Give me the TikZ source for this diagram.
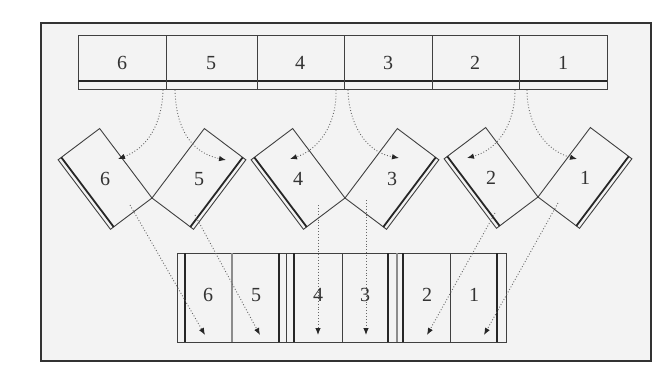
\documentclass[tikz,border=0pt]{standalone}
\usepackage{fontspec}
\setmainfont{Liberation Serif}
\usetikzlibrary{arrows.meta}
\definecolor{bg}{RGB}{243,243,243}
\tikzset{
  frame/.style={draw=black!80, line width=1.8pt},
  box/.style={draw=black!75, line width=0.9pt},
  spine/.style={draw=black!85, line width=1.8pt},
  greyline/.style={draw=black!45, line width=1.6pt},
  flow/.style={draw=black!60, dotted, line width=0.9pt,
    -{Latex[length=7pt,width=5.5pt,color=black!85]}},
  lbl/.style={font=\fontsize{20}{20}\selectfont, text=black!80, inner sep=0pt}
}
\begin{document}
\begin{tikzpicture}[x=1pt,y=-1pt]
\useasboundingbox (0,0) rectangle (654,378);
\fill[white] (0,0) rectangle (654,378);
\filldraw[frame, fill=bg] (41,23) rectangle (651,361);

% ---------- top strip ----------
\draw[box] (78,35) rectangle (607,89);
\draw[spine] (78,81) -- (607,81);
\foreach \x in {166,257,344,432,519} \draw[box] (\x,35) -- (\x,89);
\node[lbl] (t6) at (122,63) {6};
\node[lbl] (t5) at (211,63) {5};
\node[lbl] (t4) at (300,63) {4};
\node[lbl] (t3) at (388,63) {3};
\node[lbl] (t2) at (475,63) {2};
\node[lbl] (t1) at (563,63) {1};

% ---------- folded pages ----------
% 6
\draw[box] (99.64,128.52) -- (152,198) -- (110.47,229.29) -- (58.11,159.81) -- cycle;
\draw[spine] (61.30,157.40) -- (113.66,226.88);
% 5
\draw[box] (152,198) -- (204.36,128.52) -- (245.89,159.81) -- (193.53,229.29) -- cycle;
\draw[spine] (190.34,226.88) -- (242.70,157.40);
% 4
\draw[box] (292.64,128.52) -- (345,198) -- (303.47,229.29) -- (251.11,159.81) -- cycle;
\draw[spine] (254.30,157.40) -- (306.66,226.88);
% 3
\draw[box] (345,198) -- (397.36,128.52) -- (438.89,159.81) -- (386.53,229.29) -- cycle;
\draw[spine] (383.34,226.88) -- (435.70,157.40);
% 2
\draw[box] (485.64,127.52) -- (538,197) -- (496.47,228.29) -- (444.11,158.81) -- cycle;
\draw[spine] (447.30,156.40) -- (499.66,225.88);
% 1
\draw[box] (538,197) -- (590.36,127.52) -- (631.89,158.81) -- (579.53,228.29) -- cycle;
\draw[spine] (576.34,225.88) -- (628.70,156.40);

\node[lbl] (d6) at (105,179) {6};
\node[lbl] (d5) at (199,179) {5};
\node[lbl] (d4) at (298,179) {4};
\node[lbl] (d3) at (392,179) {3};
\node[lbl] (d2) at (491,178) {2};
\node[lbl] (d1) at (585,178) {1};

% ---------- bottom strip ----------
\draw[box] (177,253) rectangle (506,342);
\foreach \x in {185,279,294,388,403,497} \draw[spine] (\x,253) -- (\x,342);
\foreach \x in {286,342,450} \draw[box] (\x,253) -- (\x,342);
\foreach \x in {232,397} \draw[greyline] (\x,253) -- (\x,342);
\node[lbl] (b6) at (208,295) {6};
\node[lbl] (b5) at (256,295) {5};
\node[lbl] (b4) at (318,295) {4};
\node[lbl] (b3) at (365,295) {3};
\node[lbl] (b2) at (427,295) {2};
\node[lbl] (b1) at (474,295) {1};

% ---------- arrow end points ----------
\coordinate (s6) at (163,90);  \coordinate (e6) at (118,159);
\coordinate (s5) at (175,90);  \coordinate (e5) at (226,160);
\coordinate (s4) at (336,90);  \coordinate (e4) at (290,159);
\coordinate (s3) at (348,90);  \coordinate (e3) at (399,158);
\coordinate (s2) at (515,90);  \coordinate (e2) at (467,158);
\coordinate (s1) at (527,90);  \coordinate (e1) at (577,159);

\draw[flow] (s6) .. controls (162,125) and (147,148) .. (e6);
\draw[flow] (s5) .. controls (176,130) and (192,153) .. (e5);
\draw[flow] (s4) .. controls (337,125) and (318,150) .. (e4);
\draw[flow] (s3) .. controls (349,125) and (366,152) .. (e3);
\draw[flow] (s2) .. controls (515,125) and (497,150) .. (e2);
\draw[flow] (s1) .. controls (527,125) and (546,151) .. (e1);

\coordinate (u6) at (130,205);  \coordinate (v6) at (205,335);
\coordinate (u5) at (195,215);  \coordinate (v5) at (260,335);
\coordinate (u4) at (318,205);  \coordinate (v4) at (318,335);
\coordinate (u3) at (366,200);  \coordinate (v3) at (366,335);
\coordinate (u2) at (495,213);  \coordinate (v2) at (427,335);
\coordinate (u1) at (558,203);  \coordinate (v1) at (484,335);

\foreach \i in {6,5,4,3,2,1} \draw[flow] (u\i) -- (v\i);
\end{tikzpicture}
\end{document}
